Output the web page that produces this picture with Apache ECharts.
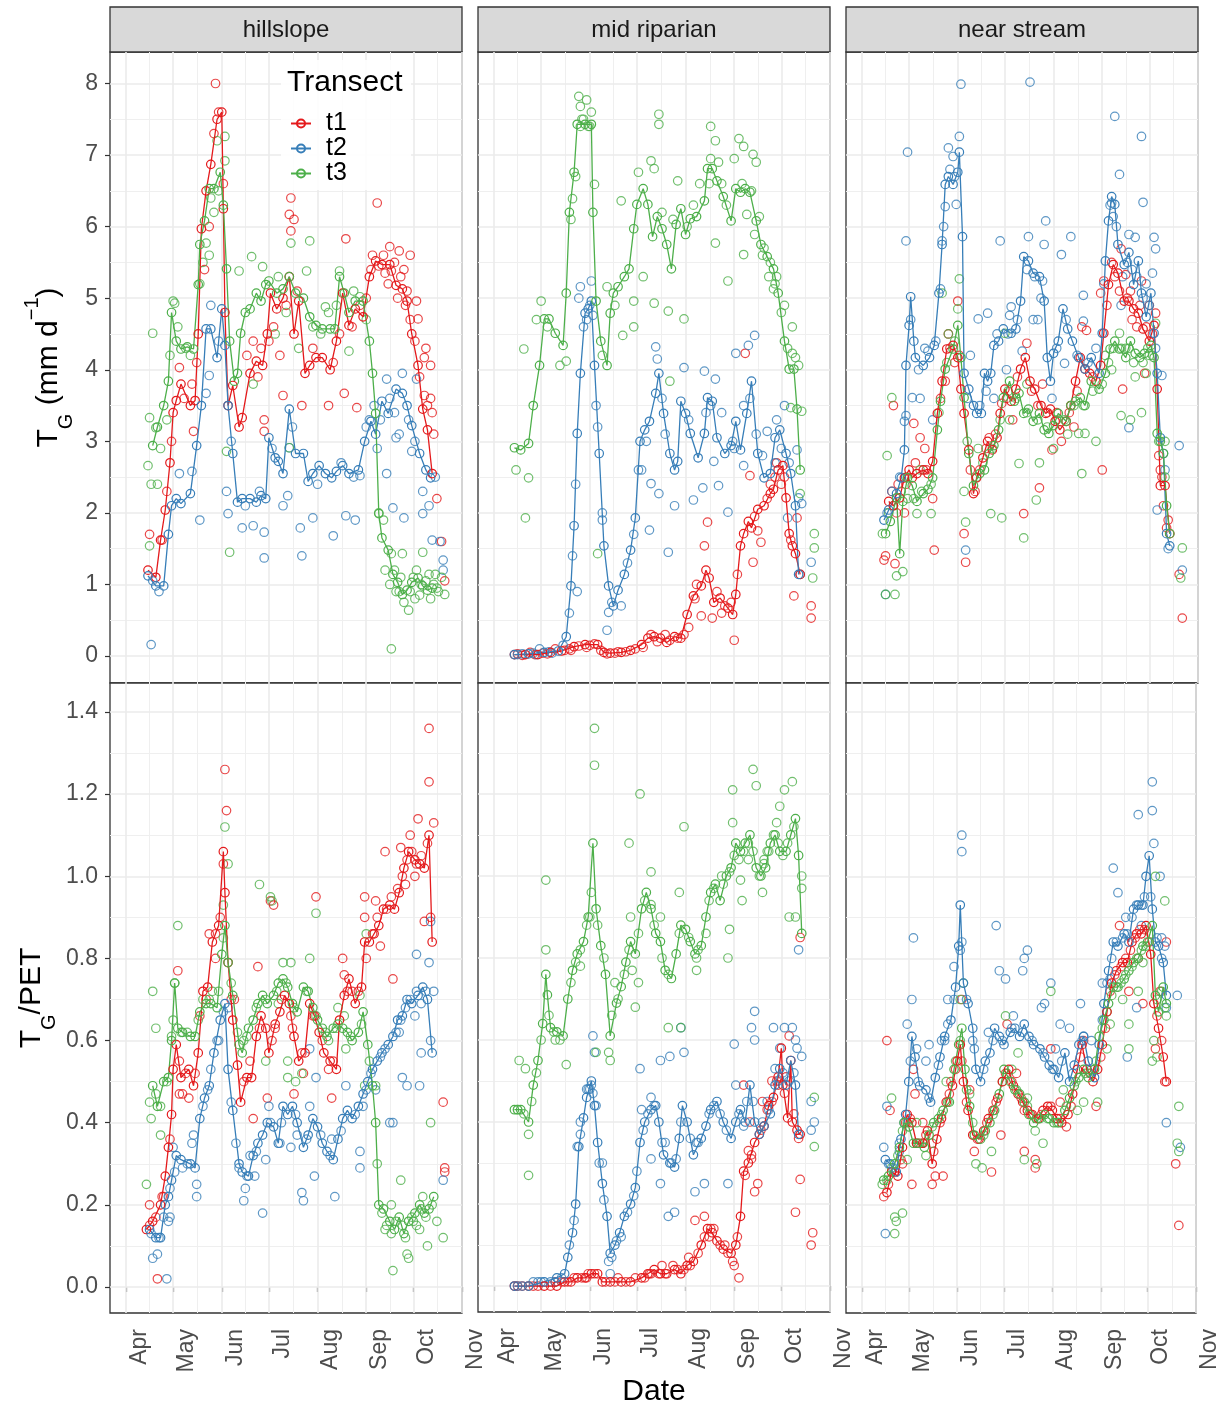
<!DOCTYPE html>
<html>
<head>
<meta charset="utf-8">
<title>Transpiration by transect</title>
<script src="https://cdn.jsdelivr.net/npm/echarts@6/dist/echarts.min.js"></script>
<style>
  html, body { margin: 0; padding: 0; background: #ffffff; }
  #chart { width: 1221px; height: 1408px; }
</style>
</head>
<body>
<div id="chart"></div>
<script>
// ---- axes: day of year on x, T_G and T_G/PET on y ----
const sites = ['hillslope', 'mid riparian', 'near stream'];
const transects = ['t1', 't2', 't3'];
const palette = ['#E41A1C', '#377EB8', '#4DAF4A'];

const monthTicks = [91, 121, 152, 182, 213, 244, 274, 305];
const monthLabels = ['Apr', 'May', 'Jun', 'Jul', 'Aug', 'Sep', 'Oct', 'Nov'];
const monthMinor = [106, 136.5, 167, 197.5, 228.5, 259, 289.5];
const tgTicks = [0, 1, 2, 3, 4, 5, 6, 7, 8];
const tgMinor = [0.5, 1.5, 2.5, 3.5, 4.5, 5.5, 6.5, 7.5];
const ratioTicks = [0, 0.2, 0.4, 0.6, 0.8, 1.0, 1.2, 1.4];
const ratioMinor = [0.1, 0.3, 0.5, 0.7, 0.9, 1.1, 1.3];
const dayRange = [80.8, 305];
const tgRange = [-0.377, 8.44];
const ratioRange = [-0.0633, 1.4706];

// ---- T_G (mm/d): [day of year, value]; *Pts are readings ----
const tgHillT1 = [[105,1.2],[110,1.1],[113,1.62],[116,2.04],[119,2.7],[121,3.4],[123,3.57],[126,3.8],[132,3.5],[135,3.57],[137,4.5],[139,5.97],[142,6.5],[145,6.87],[149,7.5],[152,7.6],[153,6.25],[154,4.8],[156,3.5],[159,3.78],[163,3.2],[165,3.33],[170,3.95],[174,4.12],[178,4.06],[181,4.5],[183,5.07],[187,4.85],[191,5.0],[195,5.3],[198,4.5],[201,4.96],[205,3.95],[208,4.06],[212,4.17],[216,4.17],[221,4.0],[225,4.4],[229,5.07],[233,4.62],[237,4.85],[242,4.74],[246,5.3],[250,5.52],[254,5.47],[259,5.47],[263,5.18],[267,5.13],[270,4.96],[273,4.5],[277,4.06],[280,3.45],[283,3.16],[286,2.55]];
const tgHillT1Pts = [[148,8.0],[196,6.4],[195,6.17],[196,5.94],[251,6.33],[231,5.83],[259,5.72],[265,5.66],[272,5.6],[260,5.38],[268,5.4],[276,4.96],[277,4.71],[281,4.17],[285,4.06],[285,3.6],[292,1.6],[281,3.64],[182,4.4],[172,4.4],[177,4.3],[191,3.64],[203,3.5],[179,3.3],[179,3.14],[220,3.5],[238,3.47],[230,3.67],[134,3.14],[133,3.8],[125,4.03],[114,1.62],[106,1.7],[144,6.0],[141,5.4],[147,7.3],[150,7.6],[153,6.6],[247,5.4],[255,5.6],[262,5.5],[270,5.1],[282,4.3],[286,3.4],[198,6.1],
  [244,5.0],[248,5.6],[252,5.45],[256,5.35],[258,5.2],[264,5.0],[266,5.3],[269,4.9],[272,4.7],[275,4.4],[278,3.9],[283,3.5],[287,3.1],[289,2.2],[294,1.05],[168,4.2],[175,3.9],[185,4.6],[189,4.2],[193,4.9],[200,5.1],[210,4.3],[223,4.1],[227,4.5],[235,4.6],[240,4.9],[117,2.3],[120,3.0],[128,3.6],[136,4.1]];
const tgHillT2 = [[105,1.12],[110,0.98],[115,0.98],[118,1.7],[120,2.1],[123,2.2],[126,2.13],[132,2.27],[136,2.94],[139,3.5],[142,4.57],[145,4.57],[149,4.17],[152,4.85],[154,4.34],[156,3.5],[159,2.83],[162,2.15],[165,2.2],[170,2.2],[174,2.15],[177,2.24],[180,2.2],[182,3.05],[186,2.77],[188,2.72],[191,2.55],[195,3.45],[199,2.83],[204,2.83],[207,2.44],[210,2.55],[214,2.66],[218,2.55],[222,2.49],[225,2.58],[229,2.66],[233,2.55],[239,2.6],[243,3.0],[247,3.28],[250,3.1],[254,3.56],[258,3.39],[263,3.73],[267,3.67],[270,3.5],[273,3.22],[278,2.83],[282,2.6],[285,2.49]];
const tgHillT2Pts = [[107,0.16],[125,2.55],[133,2.58],[138,1.9],[142,3.67],[144,3.92],[145,4.9],[155,2.3],[156,1.99],[165,1.79],[172,1.82],[179,1.37],[179,1.73],[191,2.1],[195,2.91],[202,1.79],[203,1.4],[194,2.24],[210,1.93],[223,1.68],[231,1.96],[237,1.9],[240,2.52],[257,3.87],[257,2.55],[261,2.07],[267,3.95],[276,3.87],[268,1.93],[280,1.99],[286,1.62],[293,1.34],[293,1.2],[273,2.86],[263,3.05],[112,0.9],[108,1.05],[246,3.3],[251,2.9],[265,3.1],
  [150,4.4],[158,3.0],[167,2.1],[176,2.3],[184,2.9],[197,3.2],[213,2.4],[228,2.7],[236,2.5],[244,3.2],[249,3.5],[253,3.3],[259,3.6],[262,3.4],[271,3.3],[275,3.0],[280,2.3],[284,2.1],[288,2.5],[291,1.6]];
const tgHillT3 = [[108,2.94],[111,3.2],[115,3.5],[118,3.84],[120,4.8],[123,4.4],[126,4.29],[130,4.32],[134,4.29],[137,5.19],[138,5.75],[141,6.08],[144,6.53],[147,6.53],[151,6.76],[153,6.3],[155,5.41],[157,4.4],[160,3.84],[162,3.95],[164,4.51],[167,4.8],[170,4.85],[174,5.07],[177,4.96],[180,5.19],[182,5.24],[187,5.07],[191,5.13],[195,5.3],[199,5.07],[204,5.0],[208,4.74],[212,4.62],[216,4.57],[221,4.57],[224,4.57],[227,5.3],[230,5.07],[233,4.8],[237,4.96],[242,4.96],[246,4.4],[248,3.95],[250,3.39],[252,1.99],[254,1.65],[258,1.48],[261,1.14],[264,1.03],[267,0.86],[270,0.92],[273,1.03],[277,1.09],[280,0.98],[283,0.92],[286,0.95]];
const tgHillT3Pts = [[106,3.33],[105,2.66],[106,1.54],[107,2.4],[113,2.9],[108,4.51],[121,4.96],[122,4.93],[138,5.2],[142,5.77],[144,5.6],[154,6.92],[154,7.26],[155,2.86],[157,1.45],[163,5.38],[171,5.58],[172,3.8],[178,5.44],[196,5.77],[208,5.8],[206,5.38],[218,4.88],[227,5.38],[233,4.26],[240,5.02],[195,2.91],[260,0.1],[260,1.43],[267,1.43],[280,1.45],[284,1.14],[271,0.64],[294,0.86],[288,1.14],[110,3.19],[111,2.4],[147,6.2],[150,6.5],[145,6.4],[140,5.5],[149,7.2],[129,4.3],[119,4.2],[186,4.5],[201,4.3],[215,4.5],[225,4.9],[263,0.9],[275,0.8],[279,1.0],[290,0.9],
  [252,2.0],[255,1.9],[256,1.2],[259,1.0],[262,1.2],[265,0.9],[266,1.1],[268,0.75],[272,0.9],[274,1.1],[276,1.2],[278,0.85],[282,1.05],[285,0.8],[287,1.0],[289,0.95],[292,1.1],[117,3.3],[124,4.6],[132,4.2],[188,5.3],[193,4.8],[210,4.6],[220,4.8],[236,5.1],[244,4.7]];

const tgMidT1 = [[104,0.02],[111,0.02],[119,0.02],[127,0.05],[134,0.07],[142,0.13],[149,0.16],[157,0.16],[161,0.05],[165,0.04],[172,0.05],[178,0.08],[185,0.16],[189,0.25],[193,0.27],[197,0.25],[201,0.19],[206,0.27],[210,0.25],[214,0.58],[218,0.84],[223,0.98],[226,1.2],[228,1.09],[231,0.75],[235,0.81],[240,0.67],[243,0.58],[245,0.86],[248,1.54],[250,1.71],[253,1.88],[255,1.79],[259,2.05],[263,2.1],[267,2.27],[269,2.33],[272,2.6],[275,2.66],[277,2.21],[279,1.71],[281,1.54],[283,1.43],[286,1.14]];
const tgMidT1Pts = [[251,4.23],[282,0.84],[293,0.7],[293,0.53],[244,0.22],[230,0.53],[223,0.56],[227,1.87],[225,1.54],[242,0.75],[254,2.52],[256,1.31],[259,1.75],[261,1.59],[284,1.93],[280,1.62],[246,1.14],[219,0.8],[208,0.25],[130,0.1],[140,0.08],[150,0.12],[170,0.06],[186,0.12],[195,0.2],[200,0.3],[215,0.4],[220,1.0],[236,0.6],[265,2.2],[270,2.5],[274,2.4],
  [106,0.03],[109,0.01],[114,0.05],[117,0.02],[122,0.04],[125,0.03],[136,0.08],[139,0.1],[145,0.14],[152,0.15],[155,0.17],[159,0.08],[163,0.03],[168,0.04],[175,0.06],[181,0.1],[191,0.3],[203,0.22],[212,0.3],[233,0.9],[238,0.7],[257,1.95],[267,2.4],[271,2.7],[276,2.5]];
const tgMidT2 = [[104,0.02],[113,0.03],[123,0.05],[132,0.07],[137,0.27],[140,0.98],[142,1.82],[144,3.11],[146,3.95],[149,4.79],[151,4.85],[153,4.96],[155,4.06],[158,2.83],[161,1.54],[164,0.98],[167,0.7],[170,0.92],[174,1.14],[178,1.48],[181,1.93],[184,3.0],[187,3.16],[190,3.28],[194,3.67],[196,3.95],[199,3.39],[203,2.83],[206,2.6],[208,2.72],[210,3.56],[213,3.39],[216,3.11],[221,2.77],[225,3.11],[227,3.61],[230,3.56],[233,3.05],[238,2.83],[242,2.94],[245,3.28],[248,2.88],[252,3.39],[255,3.84],[259,2.83],[263,2.49],[267,2.55],[270,3.05],[273,3.16],[277,2.83],[280,2.55],[283,2.1],[285,1.14]];
const tgMidT2Pts = [[120,0.1],[144,0.9],[146,5.16],[153,5.24],[145,5.0],[154,4.76],[163,0.36],[164,0.61],[172,0.7],[191,2.41],[196,2.27],[195,4.15],[194,4.32],[190,1.76],[202,1.45],[206,2.1],[212,4.03],[225,3.98],[232,3.87],[218,2.18],[224,2.35],[231,2.72],[234,2.38],[245,4.23],[257,4.48],[253,4.34],[240,2.01],[250,3.5],[250,2.66],[265,3.14],[276,3.5],[284,2.88],[285,2.21],[287,2.13],[293,1.31],[286,1.14],[278,1.93],[141,1.4],[143,2.4],[156,3.5],[160,2.0],[180,1.7],[185,2.6],[200,3.1],[236,3.4],[243,3.0],[262,2.8],[270,2.7],
  [106,0.02],[109,0.03],[116,0.04],[118,0.02],[126,0.06],[128,0.04],[135,0.15],[139,0.6],[148,4.6],[150,4.7],[152,4.9],[157,3.2],[160,1.9],[166,0.75],[176,1.3],[183,2.6],[188,3.0],[198,3.6],[215,3.3],[226,3.4],[229,3.5],[244,2.9],[254,3.6],[258,3.1],[271,3.3],[274,2.9],[279,2.7]];
const tgMidT3 = [[104,2.91],[108,2.88],[113,2.97],[116,3.5],[120,4.06],[123,4.71],[126,4.71],[130,4.51],[135,4.34],[137,5.07],[139,6.2],[142,6.76],[144,7.43],[149,7.43],[153,7.43],[154,6.2],[156,4.96],[159,4.4],[163,4.06],[165,4.79],[167,5.07],[170,5.16],[174,5.3],[177,5.41],[180,5.97],[182,6.31],[186,6.53],[189,6.31],[192,5.86],[195,6.14],[198,5.97],[201,5.75],[204,5.41],[207,6.03],[210,6.25],[213,5.89],[216,6.11],[220,6.14],[225,6.36],[227,6.81],[230,6.81],[233,6.64],[237,6.42],[242,6.08],[245,6.53],[248,6.48],[251,6.53],[254,6.48],[258,6.08],[261,5.75],[265,5.58],[269,5.41],[272,5.07],[276,4.4],[279,4.01],[282,4.01],[284,3.45],[286,2.6]];
const tgMidT3Pts = [[105,2.6],[113,2.49],[111,1.93],[110,4.29],[121,4.96],[133,4.06],[137,4.12],[145,7.82],[150,7.77],[146,7.68],[143,6.7],[141,6.39],[155,6.59],[157,1.43],[163,5.16],[172,6.36],[173,4.48],[180,4.96],[180,4.6],[183,6.76],[191,6.92],[193,6.81],[196,7.57],[196,7.43],[208,6.64],[212,4.71],[203,3.84],[193,4.93],[202,4.82],[229,7.4],[232,7.2],[229,6.95],[232,5.77],[240,5.24],[244,6.95],[247,7.23],[250,7.12],[256,7.01],[258,6.9],[252,6.17],[260,6.14],[250,5.61],[257,5.89],[269,5.13],[276,4.9],[281,4.6],[281,4.23],[285,4.06],[287,3.42],[286,2.27],[295,1.71],[295,1.51],[294,1.09],[280,3.47],[283,4.17],[118,4.7],[125,4.6],[147,7.5],[152,7.4],[140,6.1],[160,4.2],[168,4.9],[186,5.3],[218,6.3],[222,6.6],[236,6.6],[262,5.6],[266,5.3],[270,5.2],[274,4.8],
  [146,7.4],[148,7.5],[151,7.4],[153,7.6],[198,6.2],[205,6.1],[214,6.0],[228,6.6],[234,6.9],[239,6.3],[249,6.6],[255,6.5],[263,5.7],[267,5.5],[271,5.3],[278,4.3]];

const tgNearT1 = [[108,2.16],[111,2.1],[115,2.21],[118,2.49],[121,2.6],[123,2.49],[126,2.55],[130,2.6],[133,2.55],[136,2.72],[139,3.39],[142,3.84],[145,4.29],[149,4.34],[152,4.17],[154,3.73],[156,3.39],[159,2.88],[162,2.27],[164,2.49],[168,2.77],[171,3.0],[174,2.88],[177,3.05],[179,3.39],[182,3.73],[186,3.56],[189,3.73],[192,4.01],[195,4.17],[198,3.84],[201,3.73],[205,3.5],[208,3.39],[211,3.45],[214,3.28],[217,3.16],[221,3.28],[224,3.5],[227,3.84],[230,4.17],[233,4.01],[236,3.95],[240,3.84],[243,4.06],[245,4.51],[248,5.19],[251,5.47],[254,5.35],[258,4.96],[261,4.96],[264,4.85],[267,4.79],[270,4.57],[274,4.4],[277,4.62],[279,3.73],[281,2.38],[284,2.38],[287,1.71]];
const tgNearT1Pts = [[105,1.34],[106,1.4],[112,1.29],[111,3.5],[124,3.25],[128,3.05],[136,2.2],[137,1.48],[156,1.71],[157,1.31],[152,4.96],[144,3.84],[194,1.99],[204,2.35],[212,2.88],[206,3.8],[196,4.37],[180,3.53],[172,3.05],[244,2.6],[231,4.6],[234,4.55],[256,5.69],[250,5.5],[259,5.33],[269,5.24],[257,3.73],[271,3.95],[278,4.79],[281,2.6],[293,1.14],[285,1.79],[295,0.53],[243,5.07],[245,5.24],[114,2.4],[118,2.0],[131,2.9],[146,4.5],[150,4.1],[166,2.6],[187,3.3],[218,3.0],[226,3.2],[262,5.1],[266,4.6],[274,4.9],[283,2.1],
  [110,2.3],[113,2.0],[119,2.4],[125,2.7],[132,2.6],[141,3.6],[147,4.3],[153,4.2],[160,2.6],[163,2.3],[170,2.9],[176,3.1],[183,3.6],[190,3.9],[199,3.7],[203,3.5],[209,3.4],[215,3.4],[223,3.4],[228,3.7],[238,3.9],[247,4.9],[252,5.3],[255,5.1],[260,5.0],[263,4.7],[268,4.9],[272,4.6],[276,4.5],[280,2.8],[282,2.5],[286,1.9]];
const tgNearT2 = [[105,1.9],[108,2.04],[113,2.27],[116,2.49],[118,2.88],[119,4.06],[121,4.62],[122,5.02],[124,4.4],[125,4.17],[130,4.06],[134,4.17],[137,4.34],[140,5.07],[142,5.75],[144,6.59],[146,6.7],[149,6.59],[152,6.76],[153,7.04],[155,5.86],[156,3.95],[159,3.73],[162,3.5],[164,3.39],[167,3.39],[169,3.95],[171,3.84],[173,3.95],[175,4.34],[178,4.4],[181,4.57],[186,4.51],[189,4.57],[192,4.96],[194,5.58],[197,5.52],[200,5.35],[204,5.3],[207,4.96],[209,4.17],[211,3.84],[213,4.23],[216,4.4],[219,4.85],[222,4.57],[225,4.4],[229,4.17],[233,4.01],[237,4.17],[242,3.95],[244,4.51],[246,5.52],[248,6.08],[250,6.42],[252,6.31],[254,5.75],[258,5.47],[261,5.64],[264,5.19],[267,5.52],[269,5.07],[272,4.74],[275,5.07],[277,4.51],[279,3.95],[281,3.05],[283,2.83],[285,1.71],[287,1.54]];
const tgNearT2Pts = [[106,0.86],[120,7.04],[119,5.8],[154,7.99],[198,8.02],[153,7.26],[146,7.1],[149,6.98],[151,6.31],[144,6.28],[142,5.8],[141,5.13],[122,4.7],[123,3.61],[119,3.36],[118,3.28],[133,4.26],[136,3.3],[157,1.48],[165,4.71],[171,4.79],[179,5.8],[185,4.76],[186,4.88],[197,5.86],[208,6.08],[207,5.75],[218,5.61],[224,5.86],[206,5.24],[193,4.26],[203,4.7],[220,4.09],[232,5.04],[232,4.68],[252,7.54],[255,6.73],[269,7.26],[270,6.34],[261,5.89],[265,5.85],[277,5.85],[278,5.69],[276,5.35],[282,3.92],[293,2.94],[286,1.5],[295,1.2],[279,2.04],[261,3.19],[251,6.14],[250,6.33],[110,2.3],[128,3.6],[160,4.2],[175,3.6],[183,4.0],[200,4.7],[212,3.6],[240,4.3],[256,4.9],[272,5.2],
  [107,2.0],[115,2.5],[127,4.0],[131,4.3],[138,4.4],[143,6.0],[147,6.8],[150,6.7],[158,3.6],[166,3.5],[170,3.7],[177,4.5],[184,4.5],[190,4.7],[196,5.4],[201,5.3],[205,5.0],[215,4.3],[221,4.7],[228,4.2],[235,4.1],[245,5.2],[249,6.3],[253,6.0],[257,5.3],[260,5.5],[263,5.4],[266,5.3],[270,5.0],[274,4.9],[278,4.3],[284,2.6]];
const tgNearT3 = [[106,1.71],[109,1.88],[113,2.21],[115,1.43],[117,2.16],[120,2.49],[123,2.38],[126,2.16],[130,2.27],[133,2.33],[136,2.49],[139,3.16],[141,3.56],[144,4.01],[149,4.29],[152,4.62],[154,4.17],[156,3.61],[159,2.83],[162,2.38],[166,2.55],[169,2.6],[172,2.83],[175,2.94],[178,3.16],[181,3.61],[185,3.84],[188,3.56],[191,3.67],[194,3.39],[197,3.45],[200,3.28],[204,3.39],[207,3.16],[210,3.11],[213,3.22],[216,3.39],[221,3.28],[224,3.5],[227,3.56],[230,3.61],[233,3.5],[237,3.84],[242,3.73],[246,3.95],[249,4.29],[252,4.4],[255,4.29],[259,4.17],[262,4.4],[265,4.23],[268,4.17],[271,4.23],[275,4.34],[277,4.17],[279,3.11],[281,3.0],[283,2.83],[285,2.1],[287,1.71]];
const tgNearT3Pts = [[104,1.71],[107,2.8],[110,3.61],[113,1.12],[117,1.18],[112,0.86],[106,0.86],[126,1.99],[135,1.99],[173,1.99],[180,1.93],[194,1.65],[202,2.18],[204,2.7],[153,5.27],[142,5.07],[152,4.85],[157,1.87],[156,2.3],[231,2.55],[229,3.11],[233,3.11],[240,3.0],[256,3.36],[262,3.3],[269,3.4],[255,4.51],[259,4.3],[278,4.65],[272,3.95],[284,3.0],[295,1.51],[294,1.09],[196,3.8],[191,2.69],[182,4.51],[120,2.2],[128,2.6],[146,4.5],[165,2.9],[185,3.3],[213,2.9],[222,3.1],[246,4.2],[250,4.0],[265,3.9],[274,4.2],
  [108,2.0],[111,2.1],[116,2.3],[119,2.5],[124,2.2],[129,2.3],[135,2.4],[140,3.4],[145,4.1],[150,4.4],[158,3.0],[164,2.5],[168,2.7],[174,2.9],[179,3.3],[184,3.7],[189,3.6],[196,3.4],[203,3.3],[209,3.2],[215,3.3],[220,3.3],[226,3.5],[232,3.5],[238,3.7],[244,3.8],[248,4.1],[251,4.3],[256,4.3],[261,4.3],[264,4.1],[270,4.1],[273,4.3],[276,4.2],[280,3.0],[284,2.5]];

// ---- T_G / PET ----
const petHillT1 = [[104,0.14],[108,0.16],[113,0.2],[116,0.27],[118,0.34],[120,0.42],[121,0.53],[123,0.59],[126,0.51],[131,0.53],[134,0.49],[137,0.57],[140,0.72],[143,0.73],[146,0.84],[150,0.88],[153,1.06],[154,0.96],[156,0.79],[159,0.65],[162,0.54],[164,0.45],[168,0.51],[171,0.51],[174,0.61],[177,0.66],[180,0.63],[182,0.57],[186,0.64],[189,0.67],[192,0.71],[195,0.69],[198,0.61],[201,0.55],[205,0.57],[208,0.69],[211,0.66],[214,0.62],[217,0.57],[221,0.55],[225,0.53],[227,0.65],[230,0.71],[233,0.75],[237,0.69],[241,0.73],[243,0.84],[246,0.84],[249,0.86],[252,0.88],[255,0.92],[259,0.93],[262,0.92],[265,0.96],[268,1.02],[271,1.06],[275,1.04],[278,1.03],[281,1.02],[284,1.1],[286,0.84]];
const petHillT1Pts = [[111,0.02],[106,0.2],[114,0.22],[124,0.77],[125,0.47],[127,0.47],[131,0.46],[138,0.66],[144,0.86],[154,1.26],[155,1.16],[153,1.03],[172,0.41],[175,0.78],[181,0.46],[185,0.93],[183,0.94],[212,0.95],[186,0.63],[204,0.52],[198,0.47],[220,0.53],[222,0.46],[229,0.8],[230,0.76],[243,0.95],[243,0.9],[250,0.94],[256,1.06],[261,0.75],[266,1.07],[272,1.1],[277,1.14],[284,1.36],[284,1.23],[287,1.13],[281,0.89],[293,0.45],[294,0.29],[294,0.28],[148,0.8],[160,0.7],[196,0.66],[235,0.72],[253,0.83],[269,0.98],[275,1.0],
  [106,0.15],[110,0.17],[115,0.22],[119,0.36],[125,0.55],[129,0.52],[135,0.52],[142,0.7],[148,0.86],[151,0.9],[158,0.7],[166,0.5],[170,0.55],[176,0.63],[184,0.6],[190,0.7],[197,0.63],[203,0.57],[210,0.66],[216,0.6],[223,0.55],[232,0.72],[239,0.72],[244,0.8],[248,0.86],[251,0.9],[257,0.92],[260,0.95],[264,0.97],[267,1.0],[270,1.04],[273,1.06],[276,1.03],[279,1.05],[283,1.08],[285,0.9]];
const petHillT2 = [[106,0.14],[110,0.12],[113,0.12],[116,0.2],[118,0.22],[120,0.26],[123,0.32],[126,0.31],[132,0.3],[135,0.29],[138,0.41],[141,0.46],[144,0.49],[147,0.57],[151,0.65],[154,0.69],[156,0.53],[159,0.43],[163,0.3],[165,0.28],[169,0.27],[172,0.32],[175,0.35],[178,0.37],[181,0.4],[185,0.39],[188,0.35],[191,0.44],[194,0.42],[197,0.44],[200,0.4],[204,0.34],[207,0.37],[210,0.41],[213,0.39],[216,0.35],[219,0.33],[223,0.31],[226,0.36],[229,0.41],[232,0.43],[235,0.41],[239,0.44],[242,0.47],[245,0.5],[248,0.53],[251,0.55],[254,0.57],[258,0.59],[261,0.61],[264,0.65],[267,0.66],[270,0.7],[273,0.69],[277,0.71],[280,0.73],[283,0.7],[286,0.57]];
const petHillT2Pts = [[108,0.07],[111,0.08],[117,0.02],[119,0.17],[118,0.16],[121,0.34],[127,0.29],[134,0.37],[136,0.25],[136,0.22],[133,0.35],[145,0.53],[156,0.68],[163,0.29],[167,0.24],[166,0.21],[178,0.18],[180,0.31],[173,0.27],[182,0.44],[189,0.35],[196,0.34],[203,0.23],[204,0.21],[208,0.44],[211,0.27],[208,0.58],[212,0.51],[224,0.22],[231,0.49],[240,0.33],[240,0.29],[242,0.44],[259,0.4],[261,0.4],[267,0.51],[270,0.49],[278,0.49],[276,0.81],[284,0.79],[285,0.89],[279,0.57],[293,0.26],[287,0.72],[150,0.6],[170,0.32],[200,0.37],[222,0.36],[250,0.48],[265,0.62],[275,0.66],
  [107,0.13],[112,0.12],[115,0.17],[119,0.24],[122,0.28],[130,0.3],[140,0.44],[143,0.48],[149,0.6],[153,0.67],[158,0.45],[161,0.35],[168,0.27],[174,0.33],[183,0.4],[190,0.4],[199,0.42],[206,0.36],[215,0.37],[221,0.32],[228,0.38],[237,0.42],[244,0.48],[247,0.52],[253,0.56],[256,0.58],[263,0.62],[266,0.65],[269,0.68],[272,0.7],[276,0.72],[279,0.69],[282,0.72],[285,0.6]];
const petHillT3 = [[108,0.49],[111,0.44],[115,0.5],[118,0.51],[120,0.6],[122,0.74],[124,0.63],[127,0.62],[132,0.61],[135,0.61],[138,0.67],[142,0.69],[145,0.69],[149,0.68],[152,0.81],[154,0.88],[156,0.79],[159,0.71],[163,0.59],[165,0.57],[169,0.63],[172,0.65],[175,0.69],[178,0.71],[181,0.69],[185,0.71],[188,0.74],[191,0.75],[194,0.73],[197,0.69],[200,0.67],[204,0.73],[207,0.72],[210,0.68],[213,0.65],[216,0.63],[219,0.61],[223,0.63],[226,0.64],[229,0.63],[232,0.62],[235,0.6],[239,0.62],[242,0.67],[245,0.59],[248,0.49],[250,0.4],[252,0.2],[255,0.19],[259,0.16],[262,0.14],[265,0.17],[268,0.13],[271,0.16],[275,0.18],[278,0.2],[281,0.18],[284,0.19],[287,0.22]];
const petHillT3Pts = [[104,0.25],[107,0.41],[108,0.72],[110,0.63],[113,0.44],[113,0.37],[122,0.74],[124,0.88],[120,0.61],[154,1.12],[156,1.03],[153,0.93],[176,0.98],[183,0.95],[184,0.94],[212,0.91],[208,0.8],[191,0.79],[196,0.79],[180,0.55],[194,0.55],[194,0.51],[199,0.5],[203,0.52],[230,0.66],[231,0.58],[244,0.86],[240,0.71],[243,0.49],[250,0.49],[285,0.4],[266,0.26],[261,0.04],[270,0.08],[271,0.07],[283,0.1],[293,0.12],[280,0.22],[278,0.14],[140,0.7],[146,0.72],[166,0.6],[188,0.69],[220,0.6],[226,0.68],[256,0.14],[260,0.2],[274,0.16],[289,0.16],
  [106,0.45],[110,0.47],[117,0.5],[121,0.65],[126,0.62],[130,0.62],[137,0.65],[144,0.7],[150,0.72],[153,0.85],[158,0.74],[162,0.62],[168,0.61],[174,0.68],[180,0.7],[187,0.72],[193,0.74],[198,0.68],[206,0.72],[212,0.66],[218,0.62],[225,0.63],[234,0.61],[241,0.64],[246,0.55],[251,0.3],[254,0.18],[257,0.15],[260,0.13],[263,0.16],[267,0.15],[269,0.12],[273,0.17],[276,0.15],[279,0.19],[282,0.17],[286,0.2]];

const petMidT1 = [[104,0.0],[113,0.0],[123,0.0],[131,0.0],[136,0.01],[140,0.01],[144,0.02],[149,0.02],[153,0.03],[157,0.03],[160,0.01],[165,0.01],[172,0.01],[178,0.01],[185,0.02],[189,0.03],[193,0.04],[197,0.03],[201,0.03],[206,0.04],[210,0.03],[214,0.05],[218,0.06],[223,0.1],[227,0.14],[230,0.13],[233,0.11],[237,0.09],[242,0.08],[245,0.1],[248,0.17],[250,0.28],[253,0.3],[257,0.35],[260,0.37],[263,0.39],[266,0.44],[269,0.46],[272,0.51],[274,0.58],[275,0.49],[278,0.41],[280,0.55],[281,0.4],[284,0.38],[286,0.37]];
const petMidT1Pts = [[196,0.03],[198,0.05],[219,0.16],[225,0.17],[231,0.14],[244,0.05],[247,0.02],[243,0.06],[250,0.49],[253,0.33],[254,0.4],[257,0.23],[259,0.25],[272,0.49],[279,0.61],[277,0.51],[283,0.18],[286,0.26],[294,0.13],[293,0.1],[286,0.85],[130,0.01],[150,0.02],[170,0.02],[190,0.03],[205,0.05],[215,0.07],[228,0.12],[238,0.1],[255,0.31],[262,0.45],[268,0.5],
  [106,0.0],[109,0.0],[116,0.0],[119,0.0],[127,0.0],[134,0.01],[138,0.01],[142,0.02],[147,0.02],[151,0.03],[155,0.03],[162,0.01],[168,0.01],[175,0.01],[181,0.02],[187,0.02],[191,0.03],[200,0.03],[208,0.04],[212,0.04],[216,0.05],[221,0.08],[225,0.12],[229,0.14],[235,0.1],[240,0.08],[246,0.12],[251,0.27],[255,0.32],[261,0.38],[265,0.43],[268,0.45],[271,0.5],[276,0.47],[282,0.42],[285,0.36]];
const petMidT2 = [[104,0.0],[113,0.0],[123,0.01],[131,0.02],[136,0.03],[138,0.07],[141,0.13],[143,0.2],[145,0.34],[148,0.41],[150,0.46],[153,0.5],[155,0.44],[157,0.35],[160,0.25],[163,0.17],[165,0.08],[168,0.1],[171,0.13],[174,0.17],[178,0.2],[181,0.24],[184,0.35],[187,0.4],[191,0.43],[194,0.44],[196,0.4],[199,0.32],[203,0.3],[206,0.29],[209,0.36],[211,0.44],[214,0.4],[218,0.32],[223,0.36],[226,0.39],[229,0.43],[233,0.45],[237,0.4],[242,0.36],[245,0.4],[248,0.43],[251,0.4],[254,0.49],[257,0.4],[260,0.37],[263,0.39],[267,0.42],[270,0.49],[273,0.53],[277,0.49],[280,0.55],[283,0.49],[285,0.37]];
const petMidT2Pts = [[121,0.01],[130,0.01],[154,0.61],[155,0.57],[153,0.49],[156,0.44],[146,0.4],[144,0.34],[164,0.06],[165,0.03],[172,0.12],[184,0.53],[185,0.43],[191,0.46],[197,0.55],[203,0.56],[210,0.63],[212,0.57],[191,0.31],[197,0.25],[202,0.17],[206,0.18],[207,0.31],[219,0.23],[225,0.25],[240,0.25],[244,0.59],[245,0.49],[257,0.67],[255,0.63],[257,0.6],[269,0.63],[276,0.63],[281,0.63],[283,0.6],[284,0.58],[273,0.58],[270,0.53],[293,0.45],[295,0.4],[293,0.38],[285,0.82],[287,0.56],[150,0.48],[160,0.3],[180,0.22],[200,0.35],[220,0.35],[235,0.42],[250,0.39],[265,0.45],
  [106,0.0],[109,0.0],[116,0.01],[119,0.01],[127,0.01],[134,0.02],[139,0.1],[142,0.16],[146,0.37],[151,0.48],[152,0.48],[154,0.47],[158,0.3],[161,0.21],[166,0.07],[169,0.11],[176,0.18],[182,0.28],[186,0.38],[189,0.42],[193,0.44],[198,0.35],[204,0.3],[210,0.4],[216,0.36],[221,0.35],[228,0.42],[231,0.44],[239,0.38],[247,0.42],[252,0.45],[256,0.45],[262,0.4],[266,0.43],[272,0.5],[275,0.52],[279,0.5],[282,0.52]];
const petMidT3 = [[104,0.43],[108,0.43],[113,0.4],[116,0.49],[119,0.55],[122,0.64],[124,0.76],[125,0.71],[127,0.63],[131,0.62],[135,0.61],[138,0.7],[141,0.77],[144,0.81],[148,0.84],[151,0.9],[154,1.08],[156,0.92],[159,0.83],[162,0.76],[165,0.61],[169,0.69],[172,0.73],[175,0.79],[178,0.84],[181,0.81],[185,0.92],[188,0.96],[191,0.92],[194,0.86],[197,0.84],[200,0.77],[204,0.75],[207,0.81],[210,0.88],[213,0.87],[216,0.84],[219,0.81],[223,0.83],[226,0.9],[229,0.96],[232,0.98],[235,0.94],[239,1.0],[242,1.02],[245,1.08],[248,1.06],[251,1.08],[254,1.1],[258,1.02],[261,1.0],[264,1.02],[267,1.08],[270,1.1],[273,1.06],[277,1.06],[280,1.1],[283,1.14],[285,1.05],[287,0.86]];
const petMidT3Pts = [[107,0.55],[111,0.53],[113,0.37],[113,0.27],[106,0.43],[124,0.99],[124,0.82],[137,0.54],[155,1.36],[155,1.27],[152,0.9],[156,0.57],[164,0.57],[165,0.55],[177,1.08],[184,1.2],[178,0.9],[179,0.77],[183,0.74],[181,0.68],[191,1.01],[191,0.93],[202,0.63],[210,0.63],[209,0.96],[212,1.12],[220,0.77],[220,0.8],[241,0.87],[240,0.8],[243,1.21],[243,1.13],[256,1.26],[258,1.22],[262,0.96],[263,1.04],[271,1.13],[273,1.17],[276,1.21],[281,1.23],[279,0.9],[283,0.9],[287,1.0],[287,0.97],[295,0.46],[295,0.34],[249,0.94],[248,0.99],[130,0.6],[146,0.78],[168,0.74],[197,0.9],[226,0.86],[236,1.0],[253,1.04],[265,1.06],
  [106,0.43],[110,0.42],[115,0.45],[118,0.52],[121,0.6],[126,0.66],[129,0.62],[133,0.6],[140,0.74],[143,0.79],[146,0.82],[150,0.88],[153,0.96],[157,0.88],[161,0.8],[166,0.66],[170,0.7],[174,0.76],[177,0.82],[183,0.86],[187,0.94],[193,0.88],[198,0.8],[202,0.76],[209,0.86],[215,0.85],[221,0.82],[228,0.94],[231,0.97],[237,0.98],[241,1.01],[244,1.05],[247,1.04],[250,1.06],[253,1.08],[256,1.06],[260,1.0],[263,1.03],[266,1.06],[269,1.1],[272,1.08],[275,1.05],[278,1.08],[282,1.12]];

const petNearT1 = [[107,0.23],[110,0.28],[114,0.27],[117,0.34],[120,0.42],[123,0.4],[126,0.35],[130,0.35],[133,0.38],[136,0.3],[139,0.36],[142,0.41],[145,0.45],[149,0.49],[152,0.55],[154,0.59],[156,0.5],[159,0.43],[162,0.37],[166,0.36],[169,0.38],[172,0.41],[175,0.43],[178,0.46],[181,0.5],[185,0.53],[188,0.49],[191,0.47],[194,0.45],[197,0.43],[200,0.42],[204,0.41],[207,0.43],[210,0.44],[213,0.43],[216,0.41],[219,0.4],[223,0.42],[226,0.47],[229,0.53],[232,0.59],[235,0.53],[239,0.5],[242,0.53],[245,0.59],[248,0.67],[251,0.74],[254,0.77],[258,0.79],[261,0.79],[264,0.84],[267,0.86],[270,0.86],[273,0.88],[276,0.81],[278,0.69],[281,0.63],[284,0.56],[286,0.5]];
const petNearT1Pts = [[107,0.6],[109,0.43],[105,0.22],[124,0.53],[125,0.47],[123,0.25],[136,0.25],[138,0.27],[143,0.27],[155,0.7],[163,0.33],[174,0.28],[180,0.37],[184,0.64],[195,0.43],[195,0.33],[202,0.31],[202,0.29],[212,0.58],[222,0.39],[233,0.6],[241,0.44],[256,0.88],[271,0.69],[279,0.58],[286,0.84],[292,0.3],[294,0.15],[285,0.5],[117,0.3],[130,0.4],[148,0.5],[160,0.48],[190,0.52],[218,0.45],[247,0.63],[262,0.72],[268,0.8],[282,0.72],
  [108,0.25],[112,0.28],[116,0.31],[119,0.4],[122,0.41],[128,0.35],[132,0.37],[137,0.33],[141,0.4],[147,0.47],[151,0.53],[155,0.55],[158,0.45],[165,0.36],[171,0.4],[177,0.45],[183,0.52],[187,0.5],[193,0.46],[199,0.42],[206,0.42],[212,0.44],[218,0.41],[225,0.44],[231,0.56],[237,0.52],[244,0.56],[250,0.72],[253,0.76],[257,0.78],[260,0.8],[263,0.82],[266,0.85],[269,0.87],[272,0.87],[275,0.84],[280,0.66],[283,0.6]];
const petNearT2 = [[106,0.31],[109,0.3],[113,0.28],[116,0.36],[119,0.42],[121,0.5],[123,0.61],[125,0.56],[128,0.49],[132,0.48],[135,0.45],[138,0.51],[141,0.56],[144,0.61],[148,0.65],[151,0.73],[153,0.83],[154,0.93],[156,0.74],[159,0.69],[162,0.63],[164,0.53],[167,0.5],[170,0.55],[173,0.57],[176,0.63],[179,0.61],[182,0.59],[186,0.62],[189,0.63],[192,0.61],[195,0.64],[198,0.61],[201,0.59],[205,0.58],[208,0.56],[211,0.54],[214,0.53],[217,0.51],[221,0.57],[224,0.5],[227,0.54],[230,0.59],[233,0.61],[236,0.55],[240,0.51],[243,0.59],[246,0.69],[249,0.77],[252,0.84],[255,0.83],[259,0.86],[262,0.84],[265,0.92],[268,0.93],[271,0.93],[273,1.0],[275,1.05],[277,0.92],[279,0.84],[281,0.83],[284,0.79],[286,0.71]];
const petNearT2Pts = [[106,0.13],[105,0.34],[107,0.44],[120,0.64],[123,0.7],[124,0.85],[126,0.58],[134,0.59],[142,0.6],[144,0.6],[155,1.1],[155,1.06],[154,0.82],[150,0.78],[146,0.7],[177,0.88],[179,0.77],[183,0.75],[194,0.77],[195,0.8],[197,0.82],[206,0.68],[208,0.69],[212,0.74],[218,0.64],[224,0.63],[231,0.69],[233,0.61],[245,0.74],[252,1.02],[255,0.96],[260,0.9],[268,1.15],[277,1.23],[277,1.16],[278,1.08],[282,1.0],[283,0.85],[285,0.83],[267,0.68],[261,0.56],[286,0.68],[293,0.71],[286,0.4],[295,0.34],[115,0.35],[132,0.55],[162,0.6],[172,0.62],[188,0.66],[215,0.58],[238,0.6],[250,0.75],[270,0.88],
  [108,0.3],[111,0.29],[115,0.33],[118,0.4],[122,0.55],[127,0.5],[134,0.46],[140,0.54],[146,0.64],[150,0.7],[155,0.84],[158,0.7],[163,0.58],[169,0.53],[175,0.6],[181,0.6],[187,0.63],[194,0.62],[200,0.6],[207,0.57],[213,0.53],[219,0.55],[226,0.52],[232,0.6],[238,0.53],[245,0.65],[248,0.74],[251,0.8],[254,0.84],[258,0.85],[261,0.86],[264,0.9],[267,0.93],[270,0.93],[272,0.95],[276,0.95],[280,0.85],[283,0.8]];
const petNearT3 = [[105,0.26],[108,0.27],[112,0.3],[115,0.34],[118,0.4],[121,0.39],[124,0.35],[127,0.35],[131,0.34],[134,0.37],[137,0.4],[140,0.41],[143,0.43],[147,0.45],[150,0.53],[153,0.59],[155,0.63],[157,0.53],[160,0.44],[163,0.37],[167,0.36],[170,0.38],[173,0.4],[176,0.43],[179,0.47],[182,0.53],[186,0.5],[189,0.48],[192,0.47],[195,0.45],[198,0.42],[201,0.4],[205,0.41],[208,0.42],[211,0.41],[214,0.4],[217,0.4],[221,0.43],[224,0.46],[227,0.49],[230,0.51],[233,0.53],[236,0.51],[240,0.53],[243,0.61],[246,0.65],[249,0.69],[252,0.73],[255,0.73],[259,0.75],[262,0.77],[265,0.79],[268,0.8],[271,0.83],[274,0.84],[277,0.88],[279,0.71],[281,0.67],[284,0.73],[286,0.69]];
const petNearT3Pts = [[104,0.25],[110,0.46],[112,0.17],[113,0.16],[112,0.13],[117,0.18],[126,0.4],[132,0.32],[136,0.35],[156,0.74],[154,0.7],[164,0.3],[168,0.29],[174,0.33],[183,0.66],[191,0.57],[195,0.31],[203,0.3],[207,0.35],[202,0.38],[212,0.72],[187,0.53],[229,0.43],[233,0.45],[242,0.45],[248,0.58],[262,0.64],[262,0.58],[271,0.79],[279,1.0],[285,0.94],[286,0.66],[294,0.44],[293,0.35],[294,0.33],[278,0.6],[277,0.55],[280,0.56],[120,0.31],[145,0.5],[160,0.47],[197,0.46],[220,0.48],[250,0.64],[258,0.7],[268,0.72],
  [107,0.26],[110,0.29],[114,0.32],[117,0.38],[120,0.4],[126,0.35],[130,0.35],[136,0.39],[142,0.42],[146,0.45],[151,0.55],[154,0.6],[158,0.48],[162,0.4],[169,0.37],[175,0.42],[181,0.5],[184,0.52],[190,0.48],[197,0.44],[203,0.41],[210,0.41],[216,0.4],[222,0.44],[228,0.5],[234,0.52],[241,0.55],[245,0.63],[248,0.67],[251,0.71],[254,0.73],[257,0.74],[260,0.76],[264,0.78],[267,0.8],[270,0.82],[273,0.83],[276,0.86],[280,0.7],[283,0.72],[285,0.68]];

// ---- panel assembly ----
const panelData = [
  [
    [[tgHillT1, tgHillT1Pts], [tgHillT2, tgHillT2Pts], [tgHillT3, tgHillT3Pts]],
    [[tgMidT1, tgMidT1Pts], [tgMidT2, tgMidT2Pts], [tgMidT3, tgMidT3Pts]],
    [[tgNearT1, tgNearT1Pts], [tgNearT2, tgNearT2Pts], [tgNearT3, tgNearT3Pts]]
  ],
  [
    [[petHillT1, petHillT1Pts], [petHillT2, petHillT2Pts], [petHillT3, petHillT3Pts]],
    [[petMidT1, petMidT1Pts], [petMidT2, petMidT2Pts], [petMidT3, petMidT3Pts]],
    [[petNearT1, petNearT1Pts], [petNearT2, petNearT2Pts], [petNearT3, petNearT3Pts]]
  ]
];

const FONT = '"Liberation Sans", Arial, Helvetica, sans-serif';
const AXIS_TEXT = '#4D4D4D';
const colLeft = [110, 478, 846];
const panelWidth = 352;
const rowLayout = [
  { top: 52, height: 631, range: tgRange, ticks: tgTicks, minor: tgMinor, fmt: v => String(v) },
  { top: 683, height: 630, range: ratioRange, ticks: ratioTicks, minor: ratioMinor, fmt: v => v.toFixed(1) }
];

const majorLine = { color: '#EBEBEB', width: 1.6, type: 'solid' };
const minorLine = { color: '#EFEFEF', width: 1.0, type: 'solid' };

function gridLineMarks(row) {
  const r = rowLayout[row];
  return [].concat(
    monthMinor.map(v => ({ xAxis: v, lineStyle: minorLine })),
    r.minor.map(v => ({ yAxis: v, lineStyle: minorLine })),
    monthTicks.map(v => ({ xAxis: v, lineStyle: majorLine })),
    r.ticks.map(v => ({ yAxis: v, lineStyle: majorLine }))
  );
}

const grids = [], xAxes = [], yAxes = [], series = [];

rowLayout.forEach((r, row) => {
  colLeft.forEach((left, col) => {
    const gi = row * 3 + col;
    const bottomRow = row === 1;
    const leftCol = col === 0;

    grids.push({
      left: left, top: r.top, width: panelWidth, height: r.height,
      show: true, backgroundColor: '#FFFFFF', borderColor: '#333333', borderWidth: 1.3,
      containLabel: false
    });

    const xAxis = {
      gridIndex: gi, type: 'value', min: dayRange[0], max: dayRange[1],
      axisLine: { show: false }, splitLine: { show: false },
      axisTick: { show: bottomRow, customValues: monthTicks, length: 5, lineStyle: { color: '#333333', width: 1.2 } },
      axisLabel: {
        show: bottomRow, customValues: monthTicks, rotate: 90, margin: 16,
        verticalAlign: 'top', padding: [2, 0, 0, 0],
        fontSize: 23, fontFamily: FONT, color: AXIS_TEXT,
        formatter: v => monthLabels[monthTicks.indexOf(v)] || ''
      }
    };
    if (bottomRow && col === 1) {
      Object.assign(xAxis, {
        name: 'Date', nameLocation: 'middle', nameGap: 65,
        nameTextStyle: { fontSize: 30, fontFamily: FONT, color: '#000000' }
      });
    }
    xAxes.push(xAxis);

    const yAxis = {
      gridIndex: gi, type: 'value', min: r.range[0], max: r.range[1],
      axisLine: { show: false }, splitLine: { show: false },
      axisTick: { show: leftCol, customValues: r.ticks, length: 5, lineStyle: { color: '#333333', width: 1.2 } },
      axisLabel: {
        show: leftCol, customValues: r.ticks, margin: 12,
        fontSize: 23, fontFamily: FONT, color: AXIS_TEXT, formatter: r.fmt
      }
    };
    if (leftCol) {
      const sub = { fontSize: 20, lineHeight: 20, fontFamily: FONT, color: '#000', verticalAlign: 'bottom' };
      const sup = { fontSize: 20, lineHeight: 20, fontFamily: FONT, color: '#000', verticalAlign: 'top' };
      const main = { fontSize: 30, lineHeight: 54, fontFamily: FONT, color: '#000' };
      Object.assign(yAxis, {
        name: row === 0 ? '{t|T}{s|G}{t| (mm d}{p|\u22121}{t|)}' : '{t|T}{s|G}{t|/PET}',
        nameLocation: 'middle', nameRotate: 90, nameGap: row === 0 ? 34 : 51,
        nameTextStyle: { fontSize: 30, fontFamily: FONT, color: '#000', rich: { t: main, s: sub, p: sup } }
      });
    }
    yAxes.push(yAxis);

    const sets = panelData[row][col];
    // daily series with markers
    sets.forEach((pair, k) => {
      const s = {
        name: transects[k], type: 'line', xAxisIndex: gi, yAxisIndex: gi,
        data: pair[0], symbol: 'circle', symbolSize: 8.5, showSymbol: true, showAllSymbol: true, z: 3,
        lineStyle: { color: palette[k], width: 1.3 },
        itemStyle: { color: 'rgba(0,0,0,0)', borderColor: palette[k], borderWidth: 1.2 },
        emphasis: { disabled: true }, silent: true
      };
      if (k === 0) {
        s.markLine = {
          silent: true, symbol: ['none', 'none'], z: 1, animation: false,
          label: { show: false }, emphasis: { disabled: true },
          data: gridLineMarks(row)
        };
      }
      series.push(s);
    });
    // individual readings
    sets.forEach((pair, k) => {
      series.push({
        name: transects[k], type: 'scatter', xAxisIndex: gi, yAxisIndex: gi,
        data: pair[1], symbol: 'circle', symbolSize: 8.5, z: 2,
        itemStyle: { color: 'rgba(0,0,0,0)', borderColor: palette[k], borderWidth: 1.2 },
        emphasis: { disabled: true }, silent: true
      });
    });
  });
});

const graphics = sites.map((name, i) => ({
  type: 'group', z: 50,
  children: [
    { type: 'rect', shape: { x: colLeft[i], y: 7, width: panelWidth, height: 45 },
      style: { fill: '#D9D9D9', stroke: '#333333', lineWidth: 1.3 } },
    { type: 'text', x: colLeft[i] + panelWidth / 2, y: 30,
      style: { text: name, fontSize: 24, fontFamily: FONT, fill: '#1A1A1A', align: 'center', verticalAlign: 'middle' } }
  ]
}));
// legend key background and title
graphics.push({
  type: 'rect', z: 60, silent: true,
  shape: { x: 281, y: 60, width: 130, height: 130 },
  style: { fill: 'rgba(255,255,255,0.88)' }
});
graphics.push({
  type: 'text', x: 287, y: 83, z: 100,
  style: { text: 'Transect', fontSize: 30, fontFamily: FONT, fill: '#000000', verticalAlign: 'middle' }
});

const chart = echarts.init(document.getElementById('chart'), null, { renderer: 'canvas' });
chart.setOption({
  animation: false,
  backgroundColor: '#FFFFFF',
  grid: grids,
  xAxis: xAxes,
  yAxis: yAxes,
  legend: {
    data: transects, orient: 'vertical', left: 290, top: 111, z: 80,
    padding: 0, itemGap: 0, itemWidth: 20, itemHeight: 10, selectedMode: false,
    textStyle: { fontSize: 25, lineHeight: 23, fontFamily: FONT, color: '#000000', padding: [0, 0, 0, 10] }
  },
  graphic: graphics,
  series: series
});
</script>
</body>
</html>
